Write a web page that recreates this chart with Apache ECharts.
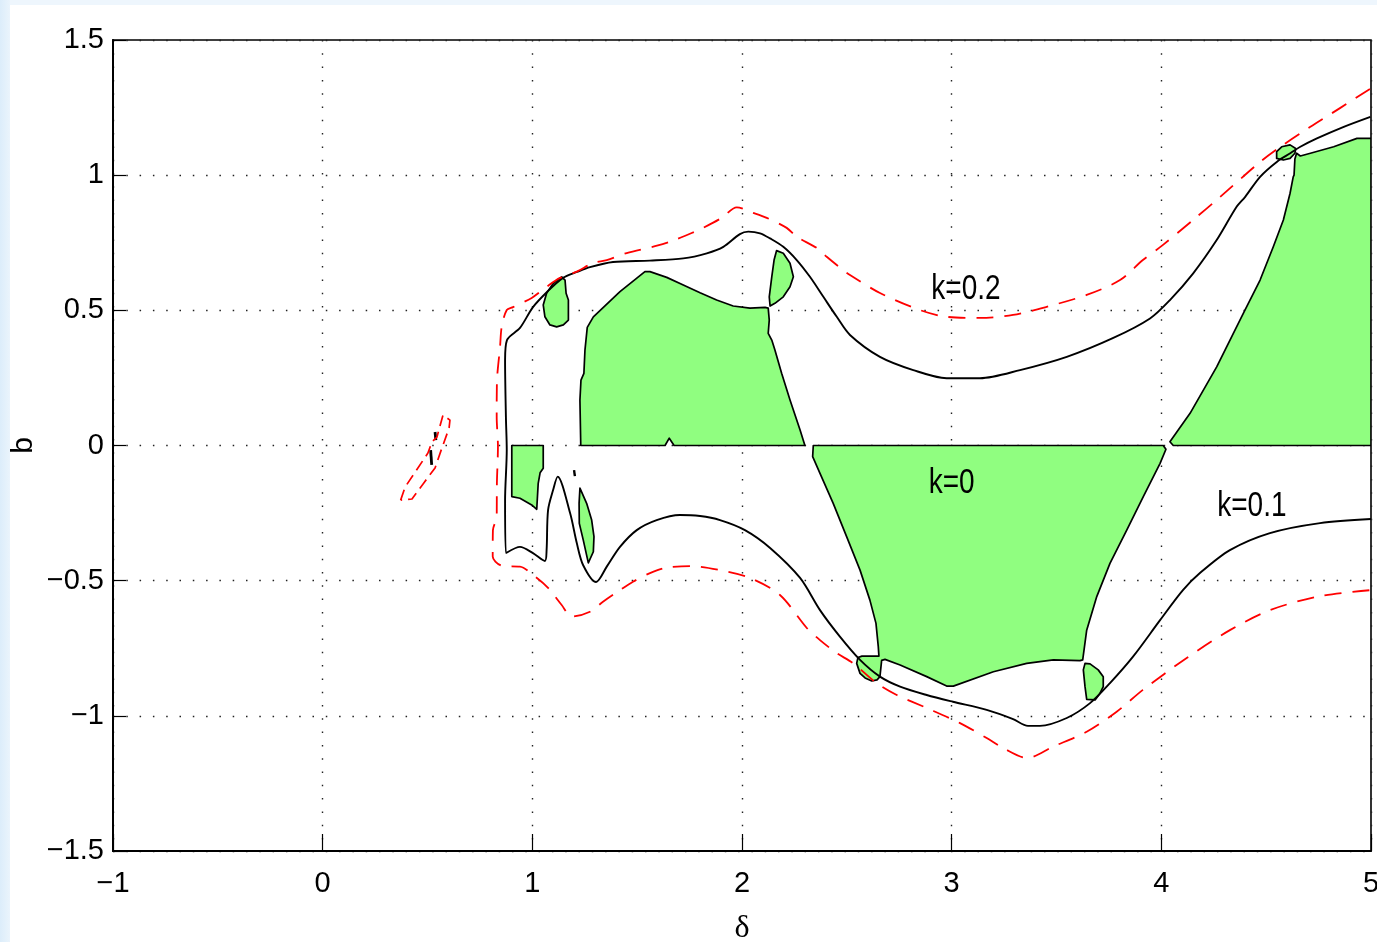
<!DOCTYPE html>
<html>
<head>
<meta charset="utf-8">
<script src="https://cdn.jsdelivr.net/npm/echarts@6/dist/echarts.min.js"></script>
<style>
  html, body { margin: 0; padding: 0; background: #fff; }
  #chart { width: 1377px; height: 942px; }
</style>
</head>
<body>
<div id="chart"></div>
<script>
// Axis ranges and ticks
const xRange = [-1, 5];
const yRange = [-1.5, 1.5];
const xStep = 1;
const yStep = 0.5;

// Stability boundary for k = 0.1 (solid black), traced from the upper right round to the lower right
const boundaryK01 = [
  [4.997,1.216],[4.870,1.179],[4.742,1.136],[4.663,1.105],[4.615,1.081],[4.552,1.050],[4.471,0.994],
  [4.400,0.920],[4.359,0.883],[4.264,0.760],[4.152,0.637],[4.041,0.538],[3.946,0.470],[3.771,0.398],
  [3.549,0.328],[3.326,0.279],[3.135,0.249],[2.976,0.249],[2.817,0.279],[2.658,0.328],[2.515,0.409],
  [2.452,0.476],[2.388,0.550],[2.324,0.624],[2.261,0.686],[2.197,0.735],[2.134,0.766],[2.086,0.785],
  [2.030,0.791],[1.990,0.782],[1.911,0.735],[1.832,0.711],[1.720,0.692],[1.561,0.684],[1.385,0.679],
  [1.275,0.660],[1.213,0.642],[1.146,0.620],[1.070,0.568],[1.003,0.512],[0.941,0.435],[0.879,0.390],
  [0.870,0.316],[0.874,0.105],[0.878,-0.017],[0.870,-0.202],[0.874,-0.398],[0.941,-0.375],[1.003,-0.398],
  [1.060,-0.427],[1.068,-0.387],[1.075,-0.239],[1.099,-0.165],[1.121,-0.115],[1.180,-0.250],[1.212,-0.361],
  [1.242,-0.442],[1.304,-0.505],[1.355,-0.448],[1.418,-0.375],[1.498,-0.313],[1.593,-0.276],[1.704,-0.257],
  [1.800,-0.261],[1.895,-0.276],[2.014,-0.313],[2.134,-0.379],[2.277,-0.490],[2.372,-0.609],[2.467,-0.707],
  [2.563,-0.793],[2.658,-0.855],[2.754,-0.892],[2.881,-0.923],[3.006,-0.948],[3.167,-0.978],[3.293,-1.012],
  [3.364,-1.037],[3.421,-1.037],[3.549,-1.008],[3.660,-0.953],[3.755,-0.879],[3.865,-0.781],[3.994,-0.646],
  [4.103,-0.535],[4.184,-0.472],[4.327,-0.387],[4.518,-0.324],[4.757,-0.287],[5.000,-0.272]
];

// Small isolated pieces of the k = 0.1 contour
const islandK01a = [[0.536,0.050],[0.540,0.020]];
const islandK01b = [[0.515,-0.017],[0.520,-0.072]];
const islandK01c = [[1.199,-0.091],[1.203,-0.113]];

// Stability boundary for k = 0.2 (dashed red)
const boundaryK02 = [
  [4.995,1.319],[4.852,1.248],[4.709,1.178],[4.566,1.104],[4.471,1.049],[4.280,0.919],[4.151,0.834],
  [4.008,0.742],[3.912,0.686],[3.803,0.612],[3.644,0.557],[3.453,0.513],[3.293,0.483],[3.135,0.472],
  [2.976,0.476],[2.849,0.501],[2.658,0.564],[2.515,0.631],[2.482,0.649],[2.404,0.698],[2.356,0.731],
  [2.261,0.772],[2.213,0.805],[2.118,0.842],[2.052,0.861],[1.975,0.881],[1.903,0.842],[1.814,0.805],
  [1.760,0.786],[1.671,0.758],[1.599,0.740],[1.450,0.712],[1.355,0.686],[1.289,0.675],[1.212,0.643],
  [1.132,0.620],[1.068,0.587],[0.997,0.546],[0.908,0.512],[0.878,0.501],[0.854,0.439],[0.846,0.365],
  [0.831,0.231],[0.830,0.107],[0.836,-0.004],[0.831,-0.139],[0.830,-0.263],[0.812,-0.313],[0.811,-0.411],
  [0.860,-0.446],[0.941,-0.448],[1.013,-0.485],[1.075,-0.527],[1.140,-0.590],[1.188,-0.633],[1.275,-0.615],
  [1.337,-0.578],[1.418,-0.535],[1.480,-0.504],[1.561,-0.472],[1.633,-0.453],[1.752,-0.446],[1.895,-0.461],
  [2.038,-0.490],[2.181,-0.553],[2.309,-0.675],[2.372,-0.720],[2.452,-0.768],[2.529,-0.805],[2.642,-0.879],
  [2.738,-0.923],[2.881,-0.971],[3.040,-1.027],[3.167,-1.082],[3.245,-1.119],[3.359,-1.156],[3.483,-1.114],
  [3.644,-1.059],[3.787,-0.985],[3.912,-0.904],[4.121,-0.786],[4.327,-0.683],[4.518,-0.609],[4.757,-0.557],
  [5.000,-0.535]
];

// Thin closed k = 0.2 contour near delta = 0.5
const islandK02 = [
  [0.372,-0.202],[0.393,-0.154],[0.445,-0.094],[0.502,-0.028],[0.521,0.013],[0.545,0.031],[0.574,0.113],
  [0.607,0.094],[0.603,0.065],[0.564,-0.020],[0.536,-0.083],[0.479,-0.142],[0.426,-0.198],[0.372,-0.202]
];

// Stable regions for k = 0 (green)
const stableA = [[1.140,0.624],[1.156,0.612],[1.161,0.563],[1.172,0.538],[1.172,0.464],[1.148,0.446],
  [1.116,0.439],[1.084,0.446],[1.060,0.476],[1.052,0.520],[1.068,0.563],[1.100,0.600]];
const stableB = [[1.231,0],[1.633,0],[1.653,0.027],[1.676,0],[2.300,0],[2.277,0.057],[2.229,0.168],
  [2.189,0.267],[2.157,0.353],[2.142,0.390],[2.125,0.415],[2.130,0.464],[2.125,0.508],[2.110,0.511],
  [2.038,0.508],[1.958,0.516],[1.879,0.538],[1.800,0.565],[1.720,0.594],[1.641,0.622],[1.561,0.643],
  [1.537,0.643],[1.418,0.569],[1.291,0.476],[1.262,0.437],[1.251,0.353],[1.246,0.267],[1.232,0.242],
  [1.227,0.168]];
const stableC = [[2.165,0.721],[2.197,0.711],[2.229,0.674],[2.245,0.624],[2.229,0.587],[2.197,0.550],
  [2.157,0.526],[2.134,0.516],[2.130,0.550],[2.142,0.624],[2.153,0.686]];
const stableD = [[0.902,0],[1.052,0],[1.052,-0.084],[1.037,-0.101],[1.028,-0.140],[1.021,-0.236],
  [0.997,-0.220],[0.941,-0.195],[0.902,-0.189]];
const stableE = [[1.227,-0.158],[1.259,-0.214],[1.283,-0.276],[1.294,-0.337],[1.291,-0.393],[1.267,-0.434],
  [1.243,-0.350],[1.224,-0.288],[1.223,-0.214]];
const stableF = [[2.340,0],[4.009,0],[4.022,-0.014],[3.994,-0.066],[3.914,-0.189],[3.835,-0.313],
  [3.755,-0.436],[3.692,-0.559],[3.644,-0.683],[3.625,-0.793],[3.612,-0.796],[3.485,-0.793],[3.358,-0.806],
  [3.199,-0.837],[3.008,-0.890],[2.976,-0.890],[2.881,-0.855],[2.754,-0.812],[2.682,-0.791],[2.666,-0.795],
  [2.658,-0.855],[2.644,-0.867],[2.619,-0.871],[2.587,-0.860],[2.563,-0.843],[2.547,-0.806],[2.553,-0.784],
  [2.572,-0.779],[2.653,-0.779],[2.650,-0.744],[2.639,-0.658],[2.610,-0.572],[2.563,-0.461],[2.499,-0.337],
  [2.435,-0.214],[2.372,-0.103],[2.337,-0.041]];
const stableG = [[3.636,-0.806],[3.660,-0.808],[3.699,-0.830],[3.723,-0.855],[3.723,-0.892],[3.707,-0.917],
  [3.684,-0.941],[3.644,-0.939],[3.636,-0.892],[3.628,-0.830]];
const stableH = [[4.041,0.014],[4.057,0],[5.000,0],[5.000,1.136],[4.933,1.136],[4.822,1.105],[4.711,1.081],
  [4.663,1.071],[4.645,1.081],[4.637,1.060],[4.633,1.000],[4.629,0.994],[4.614,0.933],[4.582,0.834],
  [4.534,0.735],[4.471,0.612],[4.391,0.489],[4.264,0.291],[4.137,0.119]];
const stableI = [[4.550,1.087],[4.574,1.105],[4.614,1.112],[4.641,1.099],[4.637,1.081],[4.614,1.062],
  [4.582,1.056],[4.550,1.062]];
const stableRegions = [stableA, stableB, stableC, stableD, stableE, stableF, stableG, stableH, stableI];

// Curve labels and where they sit
const curveLabels = ['k=0.2', 'k=0', 'k=0.1'];
const curveLabelX = [3.068, 3.000, 4.432];
const curveLabelY = [0.579, -0.139, -0.224];

const GREEN = '#90fe80';
const SANS = '"Liberation Sans", Arial, Helvetica, sans-serif';
const minusFmt = v => (v < 0 ? '\u2212' + Math.abs(v) : String(v));

const chart = echarts.init(document.getElementById('chart'), null, { renderer: 'canvas' });

function curve(name, data, color, width, type, z, smooth) {
  return {
    name, type: 'line', data, showSymbol: false, symbol: 'none', z,
    lineStyle: { color, width, type, cap: 'butt', join: 'round' },
    silent: true, clip: true, smooth: smooth || false
  };
}

const axisCommon = {
  type: 'value',
  axisLine: { show: true, onZero: false, lineStyle: { color: '#000', width: 2 } },
  axisLabel: { color: '#000', fontSize: 29, fontFamily: SANS, formatter: minusFmt },
  splitLine: { show: true, lineStyle: { color: '#222', width: 1.4, type: [1.5, 11.8] } }
};

chart.setOption({
  animation: false,
  backgroundColor: '#fff',
  grid: {
    left: 113, right: 6, top: 40, bottom: 91,
    show: true, borderColor: '#000', borderWidth: 1.6, backgroundColor: 'transparent',
    outerBoundsMode: 'none', containLabel: false
  },
  xAxis: Object.assign({}, axisCommon, {
    min: xRange[0], max: xRange[1], interval: xStep,
    name: '\u03b4', nameLocation: 'middle', nameGap: 62, nameMoveOverlap: false,
    nameTextStyle: { fontFamily: '"Liberation Serif", "DejaVu Serif", serif', fontSize: 32, color: '#000' },
    axisTick: { show: true, inside: true, length: 17, lineStyle: { color: '#000', width: 1.2 } },
    axisLabel: Object.assign({}, axisCommon.axisLabel, { margin: 18 })
  }),
  yAxis: Object.assign({}, axisCommon, {
    min: yRange[0], max: yRange[1], interval: yStep,
    name: 'b', nameLocation: 'middle', nameGap: 74, nameMoveOverlap: false,
    nameTextStyle: { fontFamily: SANS, fontSize: 30, color: '#000' },
    axisTick: { show: true, inside: true, length: 13, lineStyle: { color: '#000', width: 1.2 } },
    axisLabel: Object.assign({}, axisCommon.axisLabel, { margin: 9 })
  }),
  series: [
    {
      name: 'k=0', type: 'custom', z: 2, silent: true, clip: true,
      data: stableRegions.map((r, i) => [i]),
      renderItem: (params, api) => {
        const pts = stableRegions[params.dataIndex].map(p => api.coord(p));
        return {
          type: 'polygon',
          shape: { points: pts },
          style: { fill: GREEN, stroke: '#000', lineWidth: 1.7, lineJoin: 'round' }
        };
      }
    },
    curve('k=0.1', boundaryK01, '#000', 1.9, 'solid', 3, 0.3),
    curve('k=0.1 a', islandK01a, '#000', 2.8, 'solid', 3),
    curve('k=0.1 b', islandK01b, '#000', 2.8, 'solid', 3),
    curve('k=0.1 c', islandK01c, '#000', 2.4, 'solid', 3),
    curve('k=0.2', boundaryK02, '#ff0000', 1.8, [17, 11], 4, 0.3),
    curve('k=0.2 loop', islandK02, '#ff0000', 1.7, [11, 6], 4)
  ]
});

// Curve labels placed through the grid's own coordinate conversion
const labelItems = curveLabels.map((t, i) => {
  const [px, py] = chart.convertToPixel({ gridIndex: 0 }, [curveLabelX[i], curveLabelY[i]]);
  return {
    type: 'text', x: px, y: py, scaleY: 1.28, z: 20, silent: true,
    style: { text: t, font: '28px ' + SANS, fill: '#000', align: 'center', verticalAlign: 'middle' }
  };
});

chart.setOption({
  graphic: [
    { type: 'rect', z: 0, silent: true, shape: { x: 0, y: 0, width: 10, height: 942 },
      style: { fill: new echarts.graphic.LinearGradient(0, 0, 1, 0, [
        { offset: 0, color: '#dcedfa' }, { offset: 1, color: '#eaf4fc' }]) } },
    { type: 'rect', z: 0, silent: true, shape: { x: 10, y: 0, width: 1367, height: 5 },
      style: { fill: '#eef6fd' } }
  ].concat(labelItems)
});
</script>
</body>
</html>
